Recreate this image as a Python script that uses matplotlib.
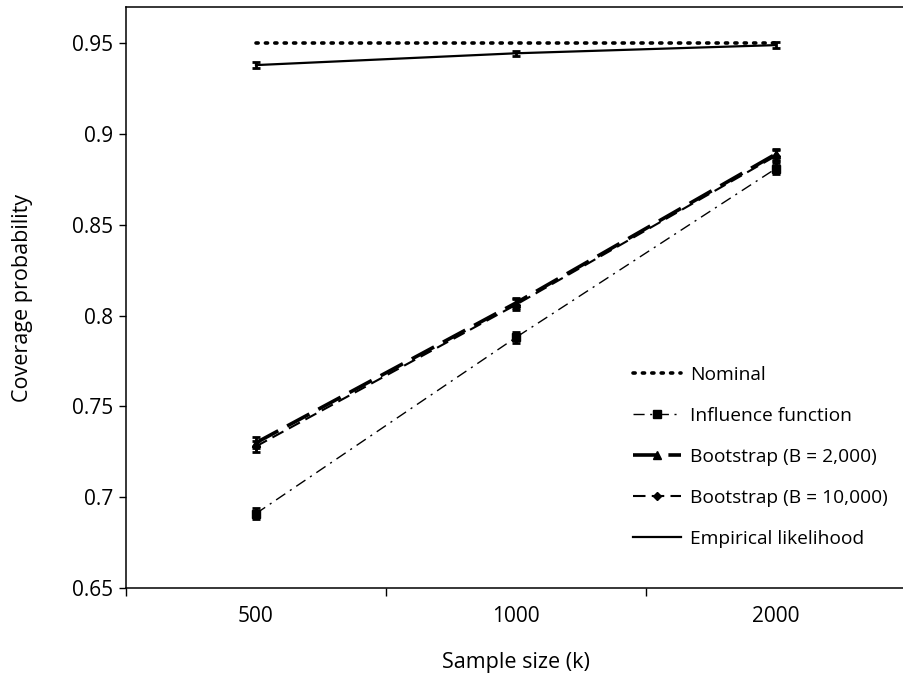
import numpy as np
import matplotlib
matplotlib.use("Agg")
import matplotlib.pyplot as plt

plt.rcParams['font.family'] = ['Open Sans', 'DejaVu Sans']

# data
sample_sizes = ["500", "1000", "2000"]
nominal = [0.95, 0.95, 0.95]
influence = [0.691, 0.788, 0.881]
influence_err = [0.003, 0.003, 0.003]
boot_2000 = [0.730, 0.807, 0.889]
boot_2000_err = [0.003, 0.003, 0.003]
boot_10000 = [0.728, 0.806, 0.888]
boot_10000_err = [0.003, 0.003, 0.003]
emp_lik = [0.938, 0.9445, 0.949]
emp_lik_err = [0.0015, 0.0015, 0.0015]

x = np.arange(len(sample_sizes))
FS = 15

fig = plt.figure(figsize=(9.04, 6.78), dpi=100)
ax = fig.add_axes([0.1394, 0.1327, 0.8626, 0.8570])

nom_line, = ax.plot(x, nominal, color="black", linestyle=(0, (0.6, 2.0)), linewidth=2.6,
                    dash_capstyle="round", label="Nominal")
eb_inf = ax.errorbar(x, influence, yerr=influence_err, color="black",
                     linestyle=(0, (8, 4, 1.5, 4)), linewidth=1.0, marker="s", markersize=6,
                     capsize=3, elinewidth=2, capthick=2)
eb_b2 = ax.errorbar(x, boot_2000, yerr=boot_2000_err, color="black",
                    linestyle=(0, (7, 2.8)), linewidth=2.6, marker="^", markersize=6,
                    capsize=3, elinewidth=2, capthick=2)
eb_b10 = ax.errorbar(x, boot_10000, yerr=boot_10000_err, color="black",
                     linestyle=(0, (6, 3)), linewidth=1.5, marker="D", markersize=4,
                     capsize=3, elinewidth=2, capthick=2)
eb_el = ax.errorbar(x, emp_lik, yerr=emp_lik_err, color="black", linestyle="-",
                    linewidth=1.6, capsize=3, elinewidth=2, capthick=2)

ax.set_xlim(-0.5, 2.5)
ax.set_ylim(0.65, 0.97)
ax.set_yticks([0.65, 0.7, 0.75, 0.8, 0.85, 0.9, 0.95])
ax.set_yticklabels(["0.65", "0.7", "0.75", "0.8", "0.85", "0.9", "0.95"])
ax.set_xticks([-0.5, 0.5, 1.5, 2.5])
ax.set_xticklabels([])
ax.set_xticks(x, minor=True)
ax.set_xticklabels(sample_sizes, minor=True)
ax.tick_params(axis="x", which="major", length=6, width=1, direction="out")
ax.tick_params(axis="x", which="minor", length=0, pad=13, labelsize=FS)
ax.tick_params(axis="y", length=5, width=1, labelsize=FS, pad=4)

ax.spines["right"].set_visible(False)
for s in ["left", "top", "bottom"]:
    ax.spines[s].set_linewidth(1.1)

ax.set_xlabel("Sample size (k)", fontsize=15.5, labelpad=18)
ax.set_ylabel("Coverage probability", fontsize=15.5, labelpad=28)

handles = [nom_line, eb_inf.lines[0], eb_b2.lines[0], eb_b10.lines[0], eb_el.lines[0]]
labels = ["Nominal", "Influence function", "Bootstrap (B = 2,000)",
          "Bootstrap (B = 10,000)", "Empirical likelihood"]
ax.legend(handles, labels, loc="upper left", bbox_to_anchor=(0.64, 0.395), frameon=False,
          fontsize=13.8, handlelength=2.5, handletextpad=0.5,
          labelspacing=1.2, borderaxespad=0, numpoints=1)

fig.savefig("out.png", dpi=100)
